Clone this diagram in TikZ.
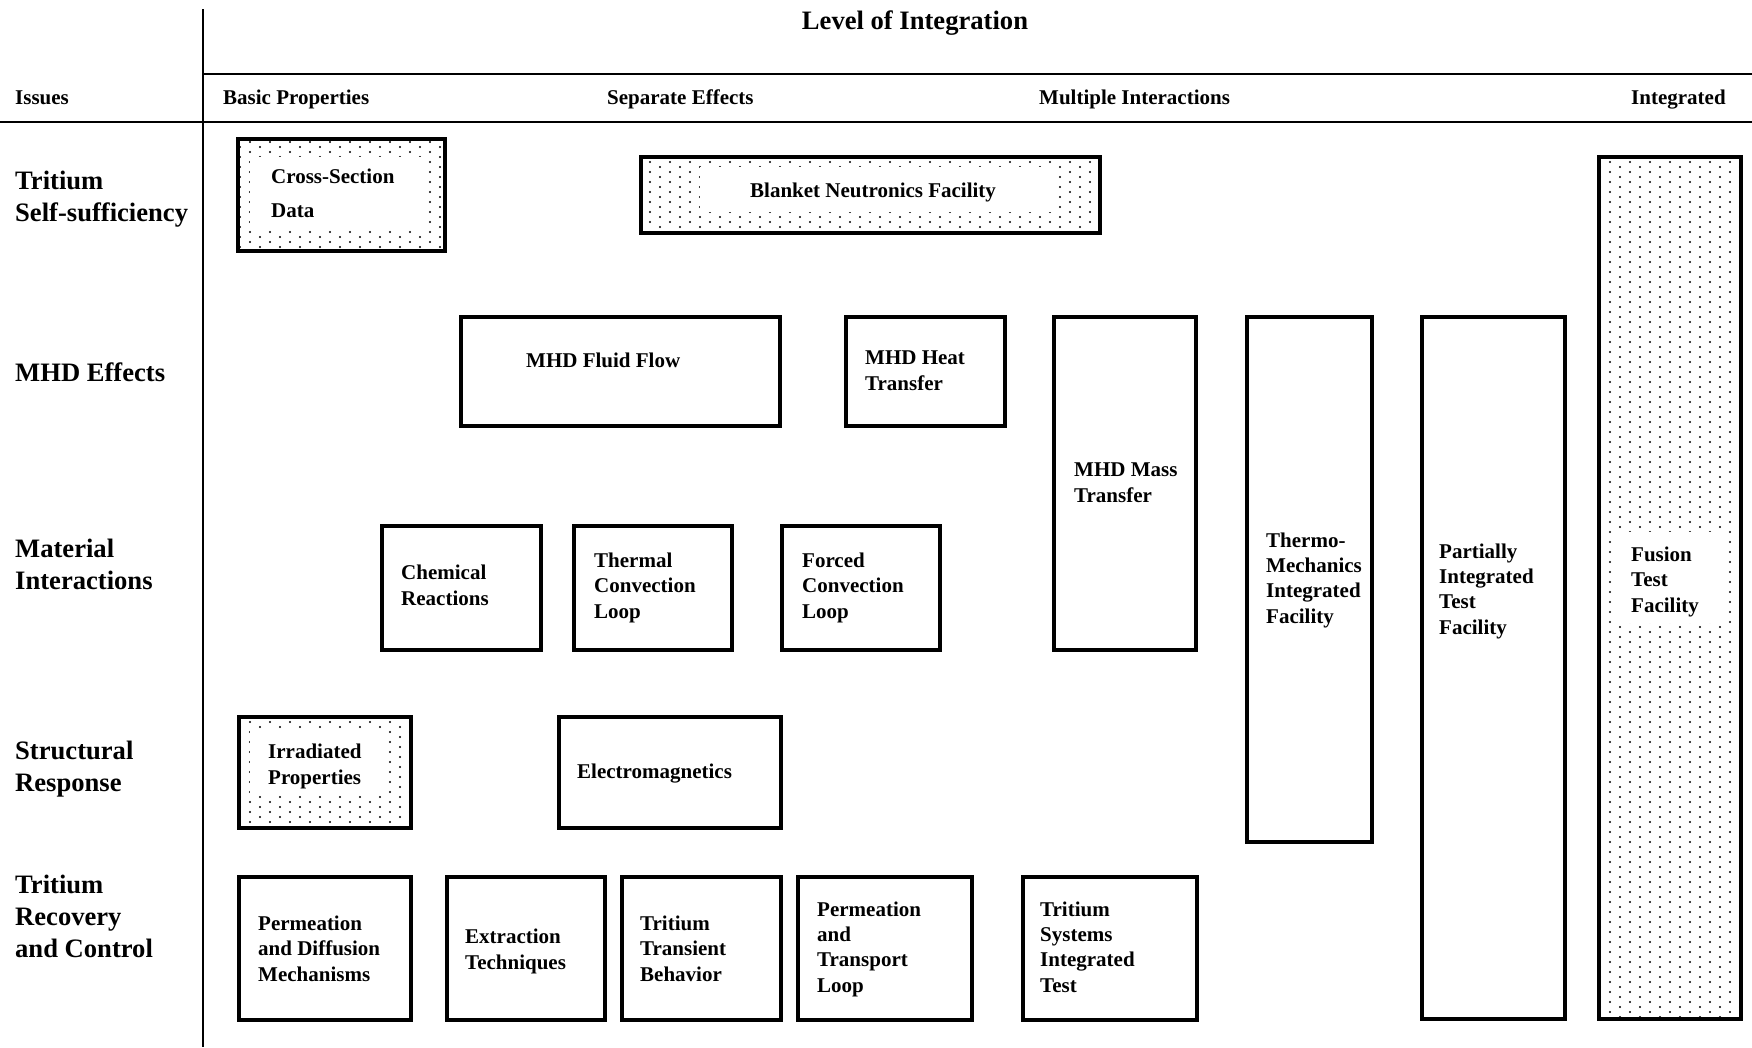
\documentclass[tikz,border=0pt]{standalone}
\usepackage{fontspec}
\setmainfont{Liberation Serif}
\usetikzlibrary{patterns}
\pgfdeclarepatternformonly{stipple}{\pgfqpoint{-2pt}{-2pt}}{\pgfqpoint{12pt}{7pt}}{\pgfqpoint{20pt}{10pt}}{%
  \pgfpathcircle{\pgfqpoint{0pt}{0pt}}{1.15pt}%
  \pgfpathcircle{\pgfqpoint{10pt}{5pt}}{1.15pt}%
  \pgfusepath{fill}}

\begin{document}
\begin{tikzpicture}[x=1pt,y=-1pt,
	box/.style={draw, line width=3.5pt, inner sep=0pt, anchor=north west},
	stippled/.style={box, pattern=stipple},
	lbl/.style={anchor=base west, align=left, inner sep=0pt, font=\fontsize{21}{25.3}\selectfont\bfseries},
	issue/.style={anchor=base west, align=left, inner sep=0pt, font=\fontsize{26.6}{32}\selectfont\bfseries},
	head/.style={anchor=base west, inner sep=0pt, font=\fontsize{21}{25}\selectfont\bfseries}]
	\useasboundingbox (0,0) rectangle (1752,1047);

	\draw[line width=1.5pt] (203,9) -- (203,1047);
	\draw[line width=2pt] (203,74) -- (1752,74);
	\draw[line width=2pt] (0,122) -- (1752,122);

	\node[issue, anchor=base] (level) at (915,29) {Level of Integration};
	\node[head] (issues) at (15,104) {Issues};
	\node[head] (basic) at (223,104) {Basic Properties};
	\node[head] (separate) at (607,104) {Separate Effects};
	\node[head] (multiple) at (1039,104) {Multiple Interactions};
	\node[head] (integrated) at (1631,104) {Integrated};

	\node[issue] (selfsuff) at (15,221) {Tritium\\Self-sufficiency};
	\node[issue] (mhd) at (15,381) {MHD Effects};
	\node[issue] (material) at (15,589) {Material\\Interactions};
	\node[issue] (structural) at (15,791) {Structural\\Response};
	\node[issue] (recovery) at (15,957) {Tritium\\Recovery\\and Control};

	\node[stippled, minimum width=207pt, minimum height=112pt] (xsec) at (236,137) {};
	\fill[white] (250,157) rectangle (428,229);
	\node[stippled, minimum width=459pt, minimum height=76pt] (blanket) at (639,155) {};
	\fill[white] (700,167) rectangle (1057,212);
	\node[stippled, minimum width=172pt, minimum height=111pt] (irradiated) at (237,715) {};
	\fill[white] (250,729) rectangle (388,795);
	\node[stippled, minimum width=142pt, minimum height=862pt] (fusion) at (1597,155) {};
	\fill[white] (1612,532) rectangle (1726,623);

	\node[box, minimum width=319pt, minimum height=109pt] (fluidflow) at (459,315) {};
	\node[box, minimum width=159pt, minimum height=109pt] (heattransfer) at (844,315) {};
	\node[box, minimum width=142pt, minimum height=333pt] (masstransfer) at (1052,315) {};
	\node[box, minimum width=125pt, minimum height=525pt] (thermomech) at (1245,315) {};
	\node[box, minimum width=143pt, minimum height=702pt] (partial) at (1420,315) {};
	\node[box, minimum width=159pt, minimum height=124pt] (chemical) at (380,524) {};
	\node[box, minimum width=158pt, minimum height=124pt] (thermalloop) at (572,524) {};
	\node[box, minimum width=158pt, minimum height=124pt] (forcedloop) at (780,524) {};
	\node[box, minimum width=222pt, minimum height=111pt] (electromag) at (557,715) {};
	\node[box, minimum width=172pt, minimum height=143pt] (permdiff) at (237,875) {};
	\node[box, minimum width=158pt, minimum height=143pt] (extraction) at (445,875) {};
	\node[box, minimum width=159pt, minimum height=143pt] (transient) at (620,875) {};
	\node[box, minimum width=174pt, minimum height=143pt] (permloop) at (796,875) {};
	\node[box, minimum width=174pt, minimum height=143pt] (tritsys) at (1021,875) {};

	\node[lbl] (xsectext) at (271,217) {Cross-Section\\[8.5pt]Data};
	\node[lbl] (blankettext) at (750,197) {Blanket Neutronics Facility};
	\node[lbl] (irradiatedtext) at (268,784) {Irradiated\\Properties};
	\node[lbl] (fusiontext) at (1631,612) {Fusion\\Test\\Facility};
	\node[lbl] (fluidflowtext) at (526,367) {MHD Fluid Flow};
	\node[lbl] (heattext) at (865,390) {MHD Heat\\Transfer};
	\node[lbl] (masstext) at (1074,502) {MHD Mass\\Transfer};
	\node[lbl] (thermotext) at (1266,623) {Thermo-\\Mechanics\\Integrated\\Facility};
	\node[lbl] (partialtext) at (1439,634) {Partially\\Integrated\\Test\\Facility};
	\node[lbl] (chemicaltext) at (401,605) {Chemical\\Reactions};
	\node[lbl] (thermaltext) at (594,618) {Thermal\\Convection\\Loop};
	\node[lbl] (forcedtext) at (802,618) {Forced\\Convection\\Loop};
	\node[lbl] (electrotext) at (577,778) {Electromagnetics};
	\node[lbl] (permdifftext) at (258,981) {Permeation\\and Diffusion\\Mechanisms};
	\node[lbl] (extractiontext) at (465,969) {Extraction\\Techniques};
	\node[lbl] (transienttext) at (640,981) {Tritium\\Transient\\Behavior};
	\node[lbl] (permlooptext) at (817,992) {Permeation\\and\\Transport\\Loop};
	\node[lbl] (tritsystext) at (1040,992) {Tritium\\Systems\\Integrated\\Test};
\end{tikzpicture}
\end{document}
